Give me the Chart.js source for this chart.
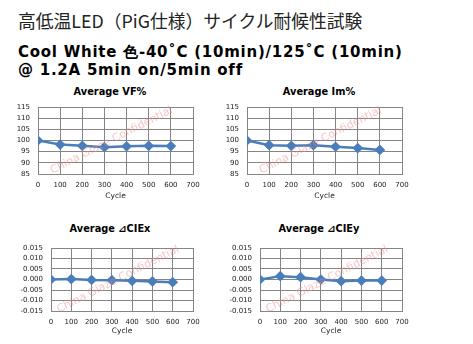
<!DOCTYPE html>
<html>
<head>
<meta charset="utf-8">
<script src="https://cdn.jsdelivr.net/npm/chart.js@4.4.1/dist/chart.umd.min.js"></script>
<style>
  body { margin:0; background:#fff; width:473px; height:344px; overflow:hidden; position:relative; }
  .hd1 { position:absolute; left:18px; top:8px; font:17.8px "Noto Sans CJK JP", sans-serif; color:#222; white-space:nowrap; line-height:24px; }
  .hd2 { position:absolute; left:18px; font:bold 15px "DejaVu Sans", sans-serif; letter-spacing:0.75px; color:#000; white-space:nowrap; line-height:18px; }
  .ttl { position:absolute; font:bold 9.8px "DejaVu Sans", "Noto Sans CJK JP", sans-serif; color:#000; white-space:nowrap; transform:translate(-50%,-50%); }
  canvas { position:absolute; }
</style>
</head>
<body>
<div class="hd1">高低温LED（PiG仕様）サイクル耐候性試験</div>
<div class="hd2" style="top:43px">Cool White 色-40˚C (10min)/125˚C (10min)</div>
<div class="hd2" style="top:61px">@ 1.2A 5min on/5min off</div>

<div class="ttl" style="left:110px;top:91px">Average VF%</div>
<div class="ttl" style="left:319px;top:91px">Average Im%</div>
<div class="ttl" style="left:110px;top:228px">Average ⊿CIEx</div>
<div class="ttl" style="left:319px;top:228px">Average ⊿CIEy</div>

<canvas id="c1" width="236" height="101" style="left:0;top:100px"></canvas>
<canvas id="c2" width="263" height="101" style="left:210px;top:100px"></canvas>
<canvas id="c3" width="236" height="96" style="left:0;top:240px"></canvas>
<canvas id="c4" width="263" height="96" style="left:210px;top:240px"></canvas>

<script>
// cycle counts (x axis)
var cycles = [0, 100, 200, 300, 400, 500, 600];

// averages per cycle
var vfPct = [100, 98.2, 97.6, 97.0, 97.4, 97.6, 97.5];
var imPct = [100, 97.9, 97.6, 97.9, 97.2, 96.6, 95.8];
var dCIEx = [0, 0.0002, -0.0002, -0.0003, -0.0006, -0.0009, -0.0013];
var dCIEy = [0, 0.0016, 0.0011, 0, -0.0008, -0.0005, -0.0005];

var blue = '#4a7ebb';
var gridGray = '#858585';

// faint stamp across the plot
var stampPlugin = {
	id: 'stamp',
	afterDraw: function(chart) {
		var a = chart.chartArea;
		var ctx = chart.ctx;
		ctx.save();
		ctx.translate((a.left + a.right) / 2 - 4, (a.top + a.bottom) / 2);
		ctx.rotate(-27 * Math.PI / 180);
		ctx.font = '11px "DejaVu Sans", sans-serif';
		ctx.fillStyle = 'rgba(238,140,140,0.5)';
		ctx.textAlign = 'center';
		ctx.textBaseline = 'middle';
		ctx.fillText('China Glaze Confidential', 0, 0);
		ctx.restore();
	}
};

// label gap comes from an invisible tick mark, keeps the plot box where padding puts it
function makeChart(id, values, yMin, yMax, yStep, decimals, yWidth, padR, padT, xHeight) {
	var pts = [];
	for (var i = 0; i < cycles.length; i++) {
		pts.push({ x: cycles[i], y: values[i] });
	}
	return new Chart(document.getElementById(id), {
		type: 'line',
		data: {
			datasets: [{
				data: pts,
				borderColor: blue,
				backgroundColor: blue,
				borderWidth: 2.5,
				pointStyle: 'rectRot',
				pointRadius: 3.6,
				pointBackgroundColor: blue,
				pointBorderColor: blue,
				tension: 0
			}]
		},
		options: {
			responsive: false,
			animation: false,
			layout: { padding: { left: 0, right: padR, top: padT, bottom: 0 } },
			plugins: { legend: { display: false }, tooltip: { enabled: false } },
			scales: {
				x: {
					type: 'linear',
					min: 0, max: 700,
					ticks: { stepSize: 100, color: '#222', padding: 0, maxRotation: 0, autoSkip: false,
						font: { family: 'DejaVu Sans', size: 7 } },
					grid: { color: gridGray, lineWidth: 1, drawTicks: true, tickLength: 7, tickColor: 'rgba(0,0,0,0)' },
					border: { color: gridGray, width: 1 },
					title: { display: true, text: 'Cycle', color: '#222', padding: 0,
						font: { family: 'DejaVu Sans', size: 7.5 } },
					afterFit: function(s) { s.height = xHeight; }
				},
				y: {
					min: yMin, max: yMax,
					ticks: { stepSize: yStep, color: '#222', padding: 0, autoSkip: false,
						font: { family: 'DejaVu Sans', size: 7 },
						callback: function(v) { return Number(v).toFixed(decimals); } },
					grid: { color: gridGray, lineWidth: 1, drawTicks: true, tickLength: 8, tickColor: 'rgba(0,0,0,0)' },
					border: { color: gridGray, width: 1 },
					afterFit: function(s) { s.width = yWidth; }
				}
			}
		},
		plugins: [stampPlugin]
	});
}

makeChart('c1', vfPct, 85, 115, 5, 0, 38, 43, 7, 27);
makeChart('c2', imPct, 85, 115, 5, 0, 37, 71, 7, 27);
makeChart('c3', dCIEx, -0.015, 0.015, 0.005, 3, 51, 43, 8, 25);
makeChart('c4', dCIEy, -0.015, 0.015, 0.005, 3, 50, 71, 8, 25);
</script>
</body>
</html>
